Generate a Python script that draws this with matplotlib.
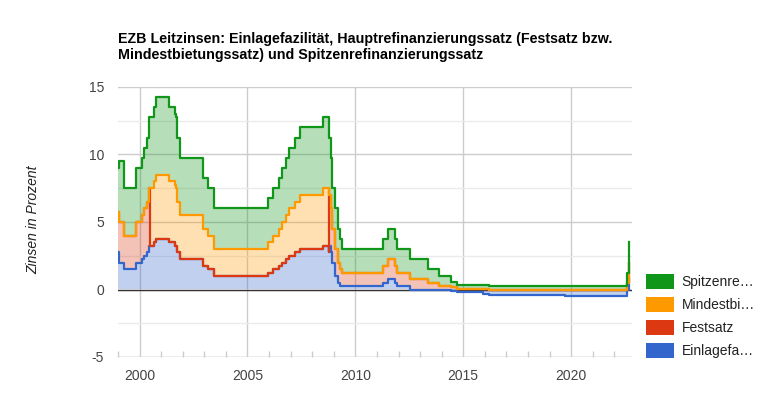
"""EZB Leitzinsen als gestapelte Flächen (Einlage, Festsatz, Mindestbietung, Spitzenrefi)."""

import matplotlib

matplotlib.use("Agg")
import matplotlib.pyplot as plt
import numpy as np
import pandas as pd

plt.rcParams["font.family"] = ["Liberation Sans", "DejaVu Sans"]
plt.rcParams["axes.unicode_minus"] = False

TITLE = (
    "EZB Leitzinsen: Einlagefazilität, Hauptrefinanzierungssatz (Festsatz bzw.\n"
    "Mindestbietungssatz) und Spitzenrefinanzierungssatz"
)
Y_LABEL = "Zinsen in Prozent"

einlage_dates = [
    "1999-01-01", "1999-01-22", "1999-04-09", "1999-11-05", "2000-02-04",
    "2000-03-17", "2000-04-28", "2000-06-09", "2000-09-01", "2000-10-06",
    "2001-05-11", "2001-08-31", "2001-09-18", "2001-11-09", "2002-12-06",
    "2003-03-07", "2003-06-06", "2005-12-06", "2006-03-08", "2006-06-15",
    "2006-08-09", "2006-10-11", "2006-12-13", "2007-03-14", "2007-06-13",
    "2008-07-09", "2008-10-08", "2008-10-09", "2008-11-12", "2008-12-10",
    "2009-01-21", "2009-03-11", "2009-04-08", "2011-04-13", "2011-07-13",
    "2011-11-09", "2011-12-14", "2012-07-11", "2014-06-11", "2014-09-10",
    "2015-12-09", "2016-03-16", "2019-09-18", "2022-07-27", "2022-09-14",
]
einlage_values = [
    2.75, 2.00, 1.50, 2.00, 2.25,
    2.50, 2.75, 3.25, 3.50, 3.75,
    3.50, 3.25, 2.75, 2.25, 1.75,
    1.50, 1.00, 1.25, 1.50, 1.75,
    2.00, 2.25, 2.50, 2.75, 3.00,
    3.25, 2.75, 3.25, 2.75, 2.00,
    1.00, 0.50, 0.25, 0.50, 0.75,
    0.50, 0.25, 0.00, -0.10, -0.20,
    -0.30, -0.40, -0.50, 0.00, 0.75,
]

festsatz_dates = [
    "1999-01-01", "1999-04-09", "1999-11-05", "2000-02-04", "2000-03-17",
    "2000-04-28", "2000-06-09", "2000-06-28", "2008-10-15", "2008-11-12",
    "2008-12-10", "2009-01-21", "2009-03-11", "2009-04-08", "2009-05-13",
    "2011-04-13", "2011-07-13", "2011-11-09", "2011-12-14", "2012-07-11",
    "2013-05-08", "2013-11-13", "2014-06-11", "2014-09-10", "2016-03-16",
    "2022-07-27", "2022-09-14",
]
festsatz_values = [
    3.00, 2.50, 3.00, 3.25, 3.50,
    3.75, 4.25, np.nan, 3.75, 3.25,
    2.50, 2.00, 1.50, 1.25, 1.00,
    1.25, 1.50, 1.25, 1.00, 0.75,
    0.50, 0.25, 0.15, 0.05, 0.00,
    0.50, 1.25,
]

mindest_dates = [
    "1999-01-01", "2000-06-28", "2000-09-06", "2000-10-11", "2001-05-15",
    "2001-09-05", "2001-09-19", "2001-11-14", "2002-12-11", "2003-03-12",
    "2003-06-09", "2005-12-06", "2006-03-08", "2006-06-15", "2006-08-09",
    "2006-10-11", "2006-12-13", "2007-03-14", "2007-06-13", "2008-07-09",
    "2008-10-15",
]
mindest_values = [
    np.nan, 4.25, 4.50, 4.75, 4.50,
    4.25, 3.75, 3.25, 2.75, 2.50,
    2.00, 2.25, 2.50, 2.75, 3.00,
    3.25, 3.50, 3.75, 4.00, 4.25,
    np.nan,
]

spitzen_dates = [
    "1999-01-01", "1999-01-22", "1999-04-09", "1999-11-05", "2000-02-04",
    "2000-03-17", "2000-04-28", "2000-06-09", "2000-09-01", "2000-10-06",
    "2001-05-11", "2001-08-31", "2001-09-18", "2001-11-09", "2002-12-06",
    "2003-03-07", "2003-06-06", "2005-12-06", "2006-03-08", "2006-06-15",
    "2006-08-09", "2006-10-11", "2006-12-13", "2007-03-14", "2007-06-13",
    "2008-07-09", "2008-10-08", "2008-10-09", "2008-11-12", "2008-12-10",
    "2009-03-11", "2009-04-08", "2009-05-13", "2011-04-13", "2011-07-13",
    "2011-11-09", "2011-12-14", "2012-07-11", "2013-05-08", "2013-11-13",
    "2014-06-11", "2014-09-10", "2016-03-16", "2022-07-27", "2022-09-14",
]
spitzen_values = [
    3.25, 4.50, 3.50, 4.00, 4.25,
    4.50, 4.75, 5.25, 5.50, 5.75,
    5.50, 5.25, 4.75, 4.25, 3.75,
    3.50, 3.00, 3.25, 3.50, 3.75,
    4.00, 4.25, 4.50, 4.75, 5.00,
    5.25, 4.75, 4.25, 3.75, 3.00,
    2.50, 2.25, 1.75, 2.00, 2.25,
    2.00, 1.75, 1.50, 1.00, 0.75,
    0.40, 0.30, 0.25, 0.75, 1.50,
]

# Reihenfolge der Stapelung (unten -> oben)
series = [
    ("Einlagefazilität", einlage_dates, einlage_values, "#3366cc"),
    ("Festsatz", festsatz_dates, festsatz_values, "#dc3912"),
    ("Mindestbietungssatz", mindest_dates, mindest_values, "#ff9900"),
    ("Spitzenrefinanzierungssatz", spitzen_dates, spitzen_values, "#109618"),
]
legend_labels = ["Spitzenre…", "Mindestbi…", "Festsatz", "Einlagefa…"]


def to_decimal_year(idx: pd.DatetimeIndex) -> np.ndarray:
    start = pd.to_datetime(idx.year.astype(str) + "-01-01")
    days = np.where(idx.is_leap_year, 366.0, 365.0)
    return idx.year + (idx - start).days.to_numpy() / days


all_dates = sorted(set(d for _, ds, _, _ in series for d in ds))
index = pd.DatetimeIndex(pd.to_datetime(all_dates))
frame = pd.DataFrame(index=index)
for name, ds, vs, _ in series:
    s = pd.Series(vs, index=pd.to_datetime(ds))
    # NaN = Satz existiert in dem Zeitraum nicht -> mit 0 gestapelt
    frame[name] = s.reindex(index, method="ffill").fillna(0.0)
x = to_decimal_year(index)

fig = plt.figure(figsize=(7.62, 3.93), dpi=100)
ax = fig.add_axes([118 / 762, 1 - 357 / 393, (632 - 118) / 762, (357 - 87) / 393])

pos_base = np.zeros(len(x))
neg_base = np.zeros(len(x))
handles = []
for name, _, _, color in series:
    v = frame[name].to_numpy()
    lower = np.where(v >= 0, pos_base, neg_base)
    upper = lower + v
    pos_base = np.where(v >= 0, upper, pos_base)
    neg_base = np.where(v < 0, upper, neg_base)
    ax.fill_between(x, lower, upper, step="post", color=color, alpha=0.3,
                    linewidth=0, zorder=2)
    ax.step(x, upper, where="post", color=color, linewidth=1.6, zorder=3)
    handles.append(plt.Rectangle((0, 0), 1, 1, facecolor=color, edgecolor="none"))

ax.axhline(0, color="#333333", linewidth=1.0, zorder=2.5)
ax.axhline(-5, color="#cccccc", linewidth=1.0, zorder=1)

ax.set_xlim(x[0], x[-1] + 0.12)
ax.set_ylim(-5, 15)
ax.set_yticks([-5, 0, 5, 10, 15])
ax.set_yticks([-2.5, 2.5, 7.5, 12.5], minor=True)
ax.set_xticks([2000, 2005, 2010, 2015, 2020])
ax.set_xticks(np.arange(1999, 2023), minor=True)
ax.grid(True, which="major", color="#cccccc", linewidth=1.0, zorder=0)
ax.grid(True, which="minor", axis="y", color="#ebebeb", linewidth=1.0, zorder=0)
for side in ax.spines.values():
    side.set_visible(False)
ax.tick_params(axis="both", which="major", length=0, labelsize=10,
               labelcolor="#444444", pad=10)
ax.tick_params(axis="y", which="minor", length=0)
ax.tick_params(axis="x", which="minor", direction="in", length=4,
               color="#cccccc", width=1)
ax.tick_params(axis="x", which="major", pad=9)

fig.text(118 / 762, 1 - 47 / 393, TITLE, fontsize=10.3, fontweight="bold",
         color="#000000", va="center", linespacing=1.25)
fig.text(33 / 762, 1 - 220 / 393, Y_LABEL, fontsize=10, fontstyle="italic",
         color="#222222", rotation=90, va="center", ha="center")

leg = fig.legend(
    handles[::-1],
    legend_labels,
    loc="upper left",
    bbox_to_anchor=(646 / 762, 1 - 274 / 393),
    frameon=False,
    fontsize=10,
    handlelength=2.0,
    handleheight=1.3,
    handletextpad=0.55,
    labelspacing=0.56,
    borderaxespad=0,
    borderpad=0,
)
for t in leg.get_texts():
    t.set_color("#222222")

fig.savefig("out.png", dpi=100)
